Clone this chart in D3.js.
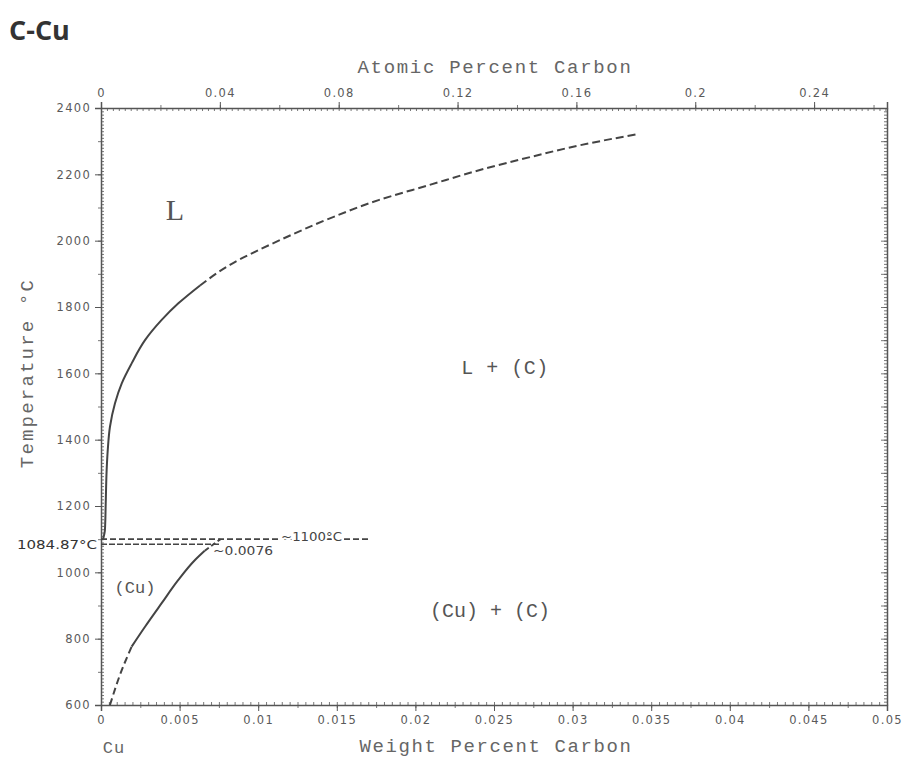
<!DOCTYPE html>
<html>
<head>
<meta charset="utf-8">
<script src="https://cdn.jsdelivr.net/npm/d3@7"></script>
<style>
  body { margin: 0; background: #fff; }
  .tick text { font-family: "DejaVu Sans", sans-serif; font-size: 11.5px; fill: #5a5a5a; letter-spacing: 1.3px; }
  .mono { font-family: "Liberation Mono", monospace; fill: #666; }
</style>
</head>
<body>
<script>
///////// data /////////
var wtTicks = [0, 0.005, 0.01, 0.015, 0.02, 0.025, 0.03, 0.035, 0.04, 0.045, 0.05]
var wtTickLabels = ['0', '0.005', '0.01', '0.015', '0.02', '0.025', '0.03', '0.035', '0.04', '0.045', '0.05']
var atTicks = [0, 0.04, 0.08, 0.12, 0.16, 0.2, 0.24]
var atTickLabels = ['0', '0.04', '0.08', '0.12', '0.16', '0.2', '0.24']
var tempTicks = [600, 800, 1000, 1200, 1400, 1600, 1800, 2000, 2200, 2400]

// liquidus (wt% C, °C), listed by rising temperature
var liqSolidWt = [0.00013, 0.00025, 0.0003, 0.00036, 0.00043, 0.00057, 0.00089, 0.00132, 0.00195, 0.0028, 0.00386, 0.00492, 0.0063]
var liqSolidT  = [1100, 1128, 1208, 1309, 1369, 1439, 1510, 1570, 1630, 1700, 1761, 1811, 1865]
var liqDashWt = [0.0063, 0.0082, 0.0114, 0.0146, 0.0177, 0.0209, 0.0241, 0.0273, 0.0305, 0.0342]
var liqDashT  = [1865, 1927, 2002, 2068, 2123, 2168, 2213, 2252, 2288, 2322]

// (Cu) solvus, listed by rising temperature
var solLowWt = [0.00057, 0.00132, 0.00195]
var solLowT  = [600, 705, 776]
var solSolidWt = [0.00195, 0.0028, 0.00386, 0.00492, 0.00598, 0.0066]
var solSolidT  = [776, 836, 907, 977, 1037, 1065]
var solTopWt = [0.0066, 0.0076]
var solTopT  = [1065, 1100]

// horizontal invariant lines [wt start, wt end, T]
var cuMeltLine = [0, 0.0076, 1084.87]
var perLine = [0, 0.0170, 1100]

var atPerWt = 63.546 / 12.011

///////// chart /////////
var W = 909, H = 763
var mLeft = 101, mRight = 887, mTop = 108, mBottom = 705

var svg = d3.select('body').append('svg').attr('width', W).attr('height', H)

var x = d3.scaleLinear().domain([0, 0.05]).range([mLeft, mRight])
var xa = d3.scaleLinear().domain([0, 0.05 * atPerWt]).range([mLeft, mRight])
var y = d3.scaleLinear().domain([600, 2400]).range([mBottom, mTop])

var ink = '#555'

// minor ticks
function minor(axis, scale, step, size, tr) {
  var d = scale.domain(), vals = d3.range(d[0], d[1] + step / 2, step)
  svg.append('g').attr('transform', tr)
    .call(axis(scale).tickValues(vals).tickSize(size).tickFormat(''))
    .call(g => g.select('.domain').remove())
    .selectAll('line').attr('stroke', '#777').attr('stroke-width', 0.8)
}
minor(d3.axisBottom, x, 0.0005, -3, 'translate(0,' + mBottom + ')')
minor(d3.axisBottom, x, 0.0025, 3, 'translate(0,' + mBottom + ')')
minor(d3.axisTop, xa, 0.002, -3, 'translate(0,' + mTop + ')')
minor(d3.axisTop, xa, 0.02, 3, 'translate(0,' + mTop + ')')
minor(d3.axisLeft, y, 10, -3, 'translate(' + mLeft + ',0)')
minor(d3.axisLeft, y, 100, 3, 'translate(' + mLeft + ',0)')
minor(d3.axisRight, y, 10, -3, 'translate(' + mRight + ',0)')
minor(d3.axisRight, y, 100, -6, 'translate(' + mRight + ',0)')

// major axes
var gx = svg.append('g').attr('transform', 'translate(0,' + mBottom + ')')
  .call(d3.axisBottom(x).tickValues(wtTicks).tickFormat((d, i) => wtTickLabels[i]).tickSize(6).tickPadding(5))
var gxt = svg.append('g').attr('transform', 'translate(0,' + mTop + ')')
  .call(d3.axisTop(xa).tickValues(atTicks).tickFormat((d, i) => atTickLabels[i]).tickSize(6).tickPadding(5))
var gy = svg.append('g').attr('transform', 'translate(' + mLeft + ',0)')
  .call(d3.axisLeft(y).tickValues(tempTicks).tickFormat(d3.format('d')).tickSize(6).tickPadding(4))
var gyr = svg.append('g').attr('transform', 'translate(' + mRight + ',0)')
  .call(d3.axisRight(y).tickValues([]).tickSizeOuter(0))

svg.selectAll('.domain').attr('stroke', ink).attr('stroke-width', 1.5)
svg.selectAll('.tick line').attr('stroke', ink)

// curves
var line = d3.line().x(d => x(d[0])).y(d => y(d[1])).curve(d3.curveMonotoneY)
function curve(wts, ts, dash) {
  svg.append('path').datum(d3.zip(wts, ts)).attr('d', line)
    .attr('fill', 'none').attr('stroke', '#444').attr('stroke-width', 2)
    .attr('stroke-dasharray', dash)
}
curve(liqSolidWt, liqSolidT, null)
curve(liqDashWt, liqDashT, '8,4')
curve(solLowWt, solLowT, '7,4')
curve(solSolidWt, solSolidT, null)
curve(solTopWt, solTopT, '5,3')

function hline(l, dash) {
  svg.append('line').attr('x1', x(l[0])).attr('x2', x(l[1])).attr('y1', y(l[2])).attr('y2', y(l[2]))
    .attr('stroke', '#444').attr('stroke-width', 1.6).attr('stroke-dasharray', dash)
}
hline(cuMeltLine, '6,2')
hline(perLine, '6,3')

// labels
function txt(t, px, py, size, opts) {
  opts = opts || {}
  var e = svg.append('text').text(t).attr('x', px).attr('y', py)
    .attr('class', opts.cls || 'mono').attr('font-size', size)
    .attr('text-anchor', opts.anchor || 'middle').attr('dominant-baseline', 'central')
  if (opts.ls) e.attr('letter-spacing', opts.ls)
  if (opts.fill) e.attr('fill', opts.fill).style('fill', opts.fill)
  if (opts.font) e.style('font-family', opts.font)
  if (opts.len) e.attr('textLength', opts.len).attr('lengthAdjust', 'spacingAndGlyphs')
  if (opts.halo) e.attr('stroke', '#fff').attr('stroke-width', 4).attr('paint-order', 'stroke')
  return e
}

svg.append('text').text('C-Cu').attr('x', 9).attr('y', 40)
  .style('font-family', '"Open Sans", sans-serif').attr('font-weight', 'bold')
  .attr('font-size', 27).attr('fill', '#333')

txt('Atomic Percent Carbon', 495, 68, 19, { ls: 1.7 })
txt('Weight Percent Carbon', 496, 747, 19, { ls: 1.6 })
txt('Temperature °C', 0, 0, 19, { ls: 2.2 }).attr('transform', 'translate(28,373) rotate(-90)')
txt('Cu', 114, 748, 17, { ls: 1 })

txt('L', 175, 209, 30, { fill: '#555', font: '"Liberation Serif", serif' })
txt('L + (C)', 505, 368, 20, { ls: 0.5, fill: '#555' })
txt('(Cu) + (C)', 490, 611, 20, { ls: 0, fill: '#555' })
txt('(Cu)', 135, 588, 17, { ls: 0, fill: '#555' })

txt('1084.87°C', 17, 545, 12, { anchor: 'start', font: '"DejaVu Sans", sans-serif', fill: '#333', len: 80 })
txt('~0.0076', 213, 551, 12, { anchor: 'start', font: '"DejaVu Sans", sans-serif', fill: '#444', len: 60 })
txt('~1100°C', 281, 537, 12, { anchor: 'start', font: '"DejaVu Sans", sans-serif', fill: '#444', len: 61, halo: true })
</script>
</body>
</html>
